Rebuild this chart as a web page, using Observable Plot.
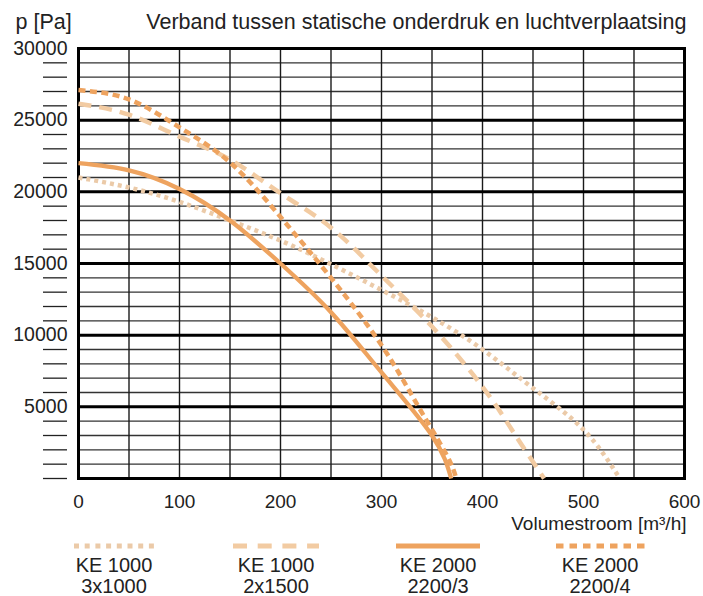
<!DOCTYPE html>
<html>
<head>
<meta charset="utf-8">
<script src="https://cdn.jsdelivr.net/npm/d3@7"></script>
<script src="https://cdn.jsdelivr.net/npm/@observablehq/plot@0.6"></script>
<style>
  body { margin: 0; background: #fff; font-family: "Liberation Sans", Arial, Helvetica, sans-serif; color: #222; }
  #legend { position: relative; width: 703px; height: 56px; }
  .item { position: absolute; top: 0; width: 150px; text-align: center; font-size: 20px; line-height: 21.5px; }
  .item svg { display: block; margin: 2px auto 0 auto; }
  .item .txt { margin-top: 4.5px; white-space: pre; }
</style>
</head>
<body>
<div id="chart"></div>
<div id="legend"></div>
<script>
// ---- texts ----
const title = "Verband tussen statische onderdruk en luchtverplaatsing";
const yTitle = "p [Pa]";
const xTitle = "Volumestroom [m³/h]";

// ---- ticks ----
const xTicks = [0, 100, 200, 300, 400, 500, 600];
const yTicks = [5000, 10000, 15000, 20000, 25000, 30000];
const xGridStep = 50;
const yGridStep = 1000;

// ---- series (volume flow m³/h -> pressure Pa) ----
const ke1000_3x1000_q = [0, 50, 100, 150, 200, 250, 300, 350, 400, 450, 500, 536];
const ke1000_3x1000_p = [21000, 20300, 19300, 18000, 16600, 14950, 13150, 11250, 9000, 6300, 3400, 0];

const ke1000_2x1500_q = [0, 50, 100, 150, 200, 250, 300, 350, 400, 430, 461];
const ke1000_2x1500_p = [26150, 25380, 23850, 22250, 19900, 17500, 14150, 10600, 6400, 3300, 0];

const ke2000_2200_3_q = [0, 50, 100, 150, 200, 250, 300, 350, 369];
const ke2000_2200_3_p = [22000, 21500, 20200, 18000, 15000, 11600, 7400, 3000, 0];

const ke2000_2200_4_q = [0, 50, 100, 150, 200, 250, 300, 335, 364, 374];
const ke2000_2200_4_p = [27100, 26450, 24500, 22050, 18250, 14000, 9300, 5200, 1700, 0];

const seriesNames = ["KE 1000\n3x1000", "KE 1000\n2x1500", "KE 2000\n2200/3", "KE 2000\n2200/4"];
const seriesQ = [ke1000_3x1000_q, ke1000_2x1500_q, ke2000_2200_3_q, ke2000_2200_4_q];
const seriesP = [ke1000_3x1000_p, ke1000_2x1500_p, ke2000_2200_3_p, ke2000_2200_4_p];

// ---- styles ----
const colors = ["#ebcaa8", "#f2cba2", "#eea35f", "#eea35f"];
const dashes = ["4,4", "13,8", null, "7,4.5"];
const widths = [4.5, 4.5, 4.3, 4.5];
const legendDashes = ["5,5.7", "14,10.7", null, "7.5,6"];
const legendWidths = [80, 86, 84, 89];
const legendCenters = [114, 276, 438, 600];

// ---- build data ----
const rows = seriesNames.flatMap((name, i) =>
  seriesQ[i].map((q, j) => ({series: name, q, p: seriesP[i][j]})));

const xGrid = d3.range(xGridStep, 600, xGridStep);
const yMinorGrid = d3.range(yGridStep, 30000, yGridStep).filter(v => v % 5000 !== 0);
const yMajorGrid = d3.range(5000, 30000, 5000);
const yMinorTicks = d3.range(0, 30000, yGridStep).filter(v => v % 5000 !== 0 || v === 0);

const lineMarks = seriesNames.map((name, i) =>
  Plot.line(rows.filter(d => d.series === name), {
    x: "q", y: "p",
    stroke: colors[i],
    strokeWidth: widths[i],
    strokeDasharray: dashes[i] ?? undefined,
    strokeLinecap: "butt",
    curve: "natural"
  }));

const chart = Plot.plot({
  width: 703,
  height: 540,
  marginLeft: 78,
  marginRight: 19,
  marginTop: 48,
  marginBottom: 62,
  style: {fontFamily: "'Liberation Sans', Arial, Helvetica, sans-serif", fontSize: "19px", color: "#222", background: "#fff"},
  x: {domain: [0, 600]},
  y: {domain: [0, 30000]},
  marks: [
    Plot.ruleY(yMinorGrid, {stroke: "#333", strokeWidth: 1.4}),
    Plot.ruleX(xGrid, {stroke: "#1a1a1a", strokeWidth: 1.4}),
    Plot.ruleY(yMajorGrid, {stroke: "#000", strokeWidth: 3}),
    Plot.frame({stroke: "#000", strokeWidth: 3}),
    Plot.axisX(xTicks, {tickSize: 0, tickPadding: 16, label: null, tickFormat: d => String(d), fontSize: 19}),
    Plot.axisY(yTicks, {tickSize: 0, tickPadding: 11, label: null, tickFormat: d => String(d), fontSize: 19.5}),
    Plot.axisY(yMinorTicks, {tickSize: 24, dx: -11, label: null, tickFormat: () => "", stroke: "#222", strokeWidth: 1.3}),
    ...lineMarks,
    Plot.text([title], {frameAnchor: "top-right", textAnchor: "end", lineAnchor: "middle", dx: 2, dy: -26, fontSize: 21.5, fill: "#222"}),
    Plot.text([yTitle], {frameAnchor: "top-left", textAnchor: "start", lineAnchor: "middle", dx: -63, dy: -26, fontSize: 21.5, fill: "#222"}),
    Plot.text([xTitle], {frameAnchor: "bottom-right", textAnchor: "end", lineAnchor: "middle", dx: 2, dy: 45, fontSize: 19, fill: "#222"})
  ]
});
document.getElementById("chart").appendChild(chart);

// ---- legend ----
const legend = document.getElementById("legend");
seriesNames.forEach((name, i) => {
  const item = document.createElement("div");
  item.className = "item";
  item.style.left = (legendCenters[i] - 75) + "px";
  const w = legendWidths[i];
  const svg = d3.create("svg").attr("width", w).attr("height", 8);
  svg.append("line")
    .attr("x1", 0).attr("x2", w).attr("y1", 4).attr("y2", 4)
    .attr("stroke", colors[i]).attr("stroke-width", 5)
    .attr("stroke-dasharray", legendDashes[i]);
  item.appendChild(svg.node());
  const txt = document.createElement("div");
  txt.className = "txt";
  txt.textContent = name;
  item.appendChild(txt);
  legend.appendChild(item);
});
</script>
</body>
</html>
